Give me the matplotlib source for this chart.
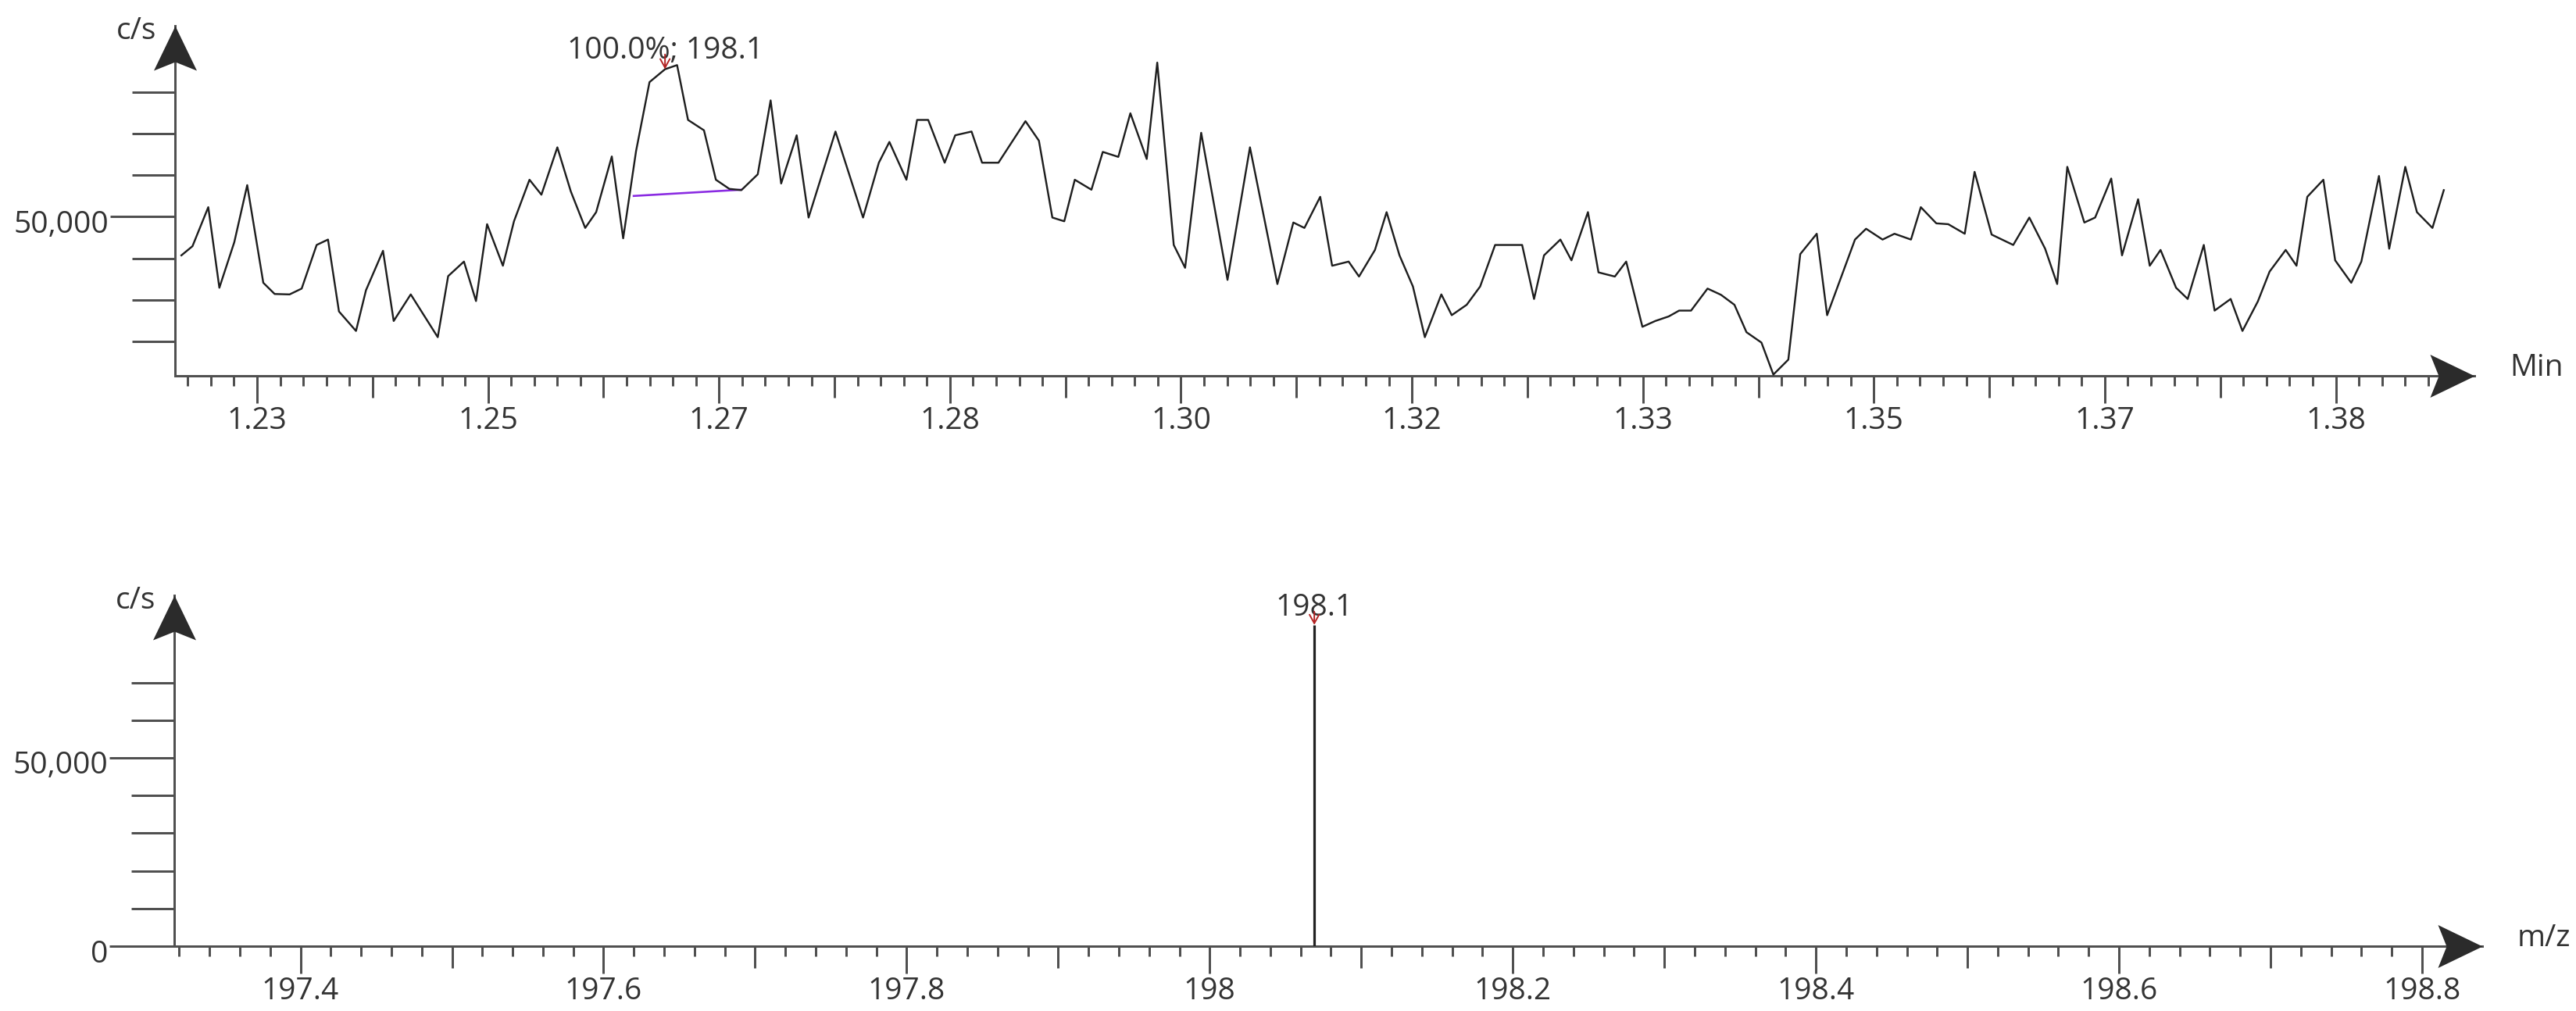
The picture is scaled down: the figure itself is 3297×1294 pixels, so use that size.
import numpy as np;
import matplotlib;
matplotlib.use("Agg");
import matplotlib.pyplot as plt;
from matplotlib.path import Path;
from matplotlib.transforms import ScaledTranslation;

plt.rcParams['font.family'] = ['Open Sans', 'DejaVu Sans'];
plt.rcParams['font.size'] = 28;

# extracted ion trace: retention time (min) and intensity (c/s)
scanTimes = [
    1.22787, 1.22867, 1.22981, 1.23061, 1.23169, 1.23262, 1.23378, 1.23460, 1.23568, 1.23655,
    1.23763, 1.23845, 1.23924, 1.24047, 1.24119, 1.24242, 1.24319, 1.24442, 1.24637, 1.24712,
    1.24826, 1.24913, 1.24993, 1.25107, 1.25187, 1.25299, 1.25385, 1.25500, 1.25597, 1.25701,
    1.25780, 1.25893, 1.25975, 1.26068, 1.26165, 1.26277, 1.26364, 1.26443, 1.26558, 1.26644,
    1.26741, 1.26828, 1.26946, 1.27039, 1.27115, 1.27227, 1.27313, 1.27507, 1.27706, 1.27820,
    1.27896, 1.28019, 1.28096, 1.28176, 1.28295, 1.28371, 1.28489, 1.28565, 1.28683, 1.28878,
    1.28975, 1.29072, 1.29158, 1.29234, 1.29354, 1.29436, 1.29548, 1.29635, 1.29753, 1.29829,
    1.29948, 1.30030, 1.30146, 1.30336, 1.30498, 1.30696, 1.30811, 1.30891, 1.31005, 1.31091,
    1.31210, 1.31285, 1.31400, 1.31484, 1.31577, 1.31674, 1.31760, 1.31879, 1.31954, 1.32062,
    1.32159, 1.32267, 1.32462, 1.32548, 1.32620, 1.32738, 1.32818, 1.32937, 1.33013, 1.33131,
    1.33213, 1.33330, 1.33423, 1.33520, 1.33595, 1.33681, 1.33800, 1.33897, 1.33994, 1.34081,
    1.34189, 1.34275, 1.34383, 1.34469, 1.34588, 1.34663, 1.34864, 1.34944, 1.35063, 1.35149,
    1.35268, 1.35339, 1.35451, 1.35537, 1.35656, 1.35727, 1.35850, 1.36006, 1.36122, 1.36236,
    1.36323, 1.36396, 1.36519, 1.36597, 1.36713, 1.36791, 1.36907, 1.36991, 1.37069, 1.37181,
    1.37265, 1.37381, 1.37459, 1.37575, 1.37660, 1.37771, 1.37856, 1.37972, 1.38050, 1.38128,
    1.38244, 1.38329, 1.38445, 1.38518, 1.38645, 1.38719, 1.38835, 1.38919, 1.39031, 1.39113];
scanCounts = [
    40700, 42900, 52300, 32900, 43900, 57600, 34100, 31400, 31300, 32700,
    43200, 44500, 27200, 22500, 32300, 41800, 24900, 31300, 21000, 35700,
    39200, 29700, 48200, 38200, 48900, 58900, 55300, 66700, 56100, 47300,
    51100, 64500, 44800, 65800, 82400, 85500, 86500, 73300, 70800, 58900,
    56700, 56400, 60200, 78000, 58000, 69600, 49800, 70500, 49800, 63000,
    68000, 58900, 73300, 73300, 63000, 69600, 70500, 63000, 63000, 73000,
    68300, 49800, 48900, 58900, 56500, 65600, 64400, 74900, 63900, 87100,
    43200, 37700, 70200, 34800, 66700, 33800, 48600, 47300, 54800, 38200,
    39200, 35600, 42000, 51100, 40700, 33200, 21000, 31300, 26300, 28800,
    33200, 43200, 43200, 30200, 40700, 44500, 39500, 51100, 36600, 35600,
    39200, 23500, 24900, 26000, 27400, 27400, 32700, 31200, 28800, 22200,
    19700, 12000, 15600, 41000, 45900, 26300, 44500, 47100, 44500, 45900,
    44500, 52300, 48400, 48200, 45900, 60800, 45700, 43200, 49800, 42300,
    33800, 62000, 48600, 49800, 59200, 40700, 54200, 38200, 42000, 32900,
    30200, 43200, 27400, 30200, 22500, 29600, 36800, 42000, 38200, 54800,
    58900, 39500, 34100, 39200, 59800, 42300, 62000, 51100, 47300, 56400];

# integration baseline drawn under the marked peak
baseTimes = [1.26051, 1.26828];
baseCounts = [55000, 56500];

apexTime = 1.26277;
apexCounts = 85500;
apexLabel = "100.0%; 198.1";

# mass spectrum at the apex
specMz = [198.069];
specCounts = [85300];
specLabel = "198.1";

timeTickLabels = ["1.23", "1.25", "1.27", "1.28", "1.30", "1.32", "1.33", "1.35", "1.37", "1.38"];
mzTickLabels = ["197.4", "197.6", "197.8", "198", "198.2", "198.4", "198.6", "198.8"];

W = 3297; H = 1294; DPI = 100;
px = 72.0 / DPI;   # points per pixel
lineGray = "#505050";
arrowGray = "#2b2b2b";
textGray = "#333333";

def arrowHead(direction):
    # stealth style head, tip at the origin, sizes in pixels
    if direction == "up":
        verts = [(0, 0), (-27.5, -57), (0, -46), (27.5, -57), (0, 0)];
    else:
        verts = [(0, 0), (-57, 27.5), (-46, 0), (-57, -27.5), (0, 0)];
    codes = [Path.MOVETO, Path.LINETO, Path.LINETO, Path.LINETO, Path.CLOSEPOLY];
    return Path(verts, codes);

def dressAxes(ax, xName):
    for side in ["top", "right"]:
        ax.spines[side].set_visible(False);
    for side in ["left", "bottom"]:
        ax.spines[side].set_color(lineGray);
        ax.spines[side].set_linewidth(3 * px);
    ax.plot([0], [1], marker=arrowHead("up"), ms=2 * 57 * px, color=arrowGray, mew=0,
            transform=ax.transAxes, clip_on=False, zorder=6);
    ax.plot([1], [0], marker=arrowHead("right"), ms=2 * 57 * px, color=arrowGray, mew=0,
            transform=ax.transAxes, clip_on=False, zorder=6);
    ax.annotate("c/s", xy=(0, 1), xycoords="axes fraction", xytext=(-24 * px, -7 * px),
                textcoords="offset points", ha="right", va="center", color=textGray);
    ax.annotate(xName, xy=(1, 0), xycoords="axes fraction", xytext=(45 * px, 0),
                textcoords="offset points", ha="left", va="baseline", color=textGray);
    ax.tick_params(axis="both", which="both", direction="out", color=lineGray,
                   width=3 * px, labelcolor=textGray, labelsize=28);
    ax.tick_params(axis="x", which="major", length=35 * px, pad=3);
    ax.tick_params(axis="x", which="minor", length=13 * px);
    ax.tick_params(axis="y", which="major", length=83 * px, pad=1);
    ax.tick_params(axis="y", which="minor", length=0);

def setTicks(ax, axis, positions, labels, shortLen):
    if axis == "x":
        ax.set_xticks(positions, labels=labels);
        ticks = ax.xaxis.get_major_ticks();
    else:
        ax.set_yticks(positions, labels=labels);
        ticks = ax.yaxis.get_major_ticks();
    for tick, lab in zip(ticks, labels):
        if lab == "":
            tick.tick1line.set_markersize(shortLen * px);

fig = plt.figure(figsize=(W / DPI, H / DPI), dpi=DPI);
nudge = ScaledTranslation(0, -6.0 / DPI, fig.dpi_scale_trans);

# ---- chromatogram ----
axTop = fig.add_axes([224 / W, (H - 480.7) / H, (3167 - 224) / W, (480.7 - 33) / H]);
axTop.plot(scanTimes, scanCounts, color="#1e1e1e", lw=2.4 * px, zorder=3);
axTop.plot(baseTimes, baseCounts, color="#8a2be2", lw=2.6 * px, zorder=2);
axTop.set_xlim(1.22741, 1.39334);
axTop.set_ylim(11760, 95960);
dressAxes(axTop, "Min");

halfSec = np.arange(148, 167) / 120.0;
topLabels = [];
for i in range(len(halfSec)):
    topLabels.append(timeTickLabels[i // 2] if i % 2 == 0 else "");
setTicks(axTop, "x", halfSec, topLabels, 28);
axTop.set_xticks(np.arange(737, 835) / 600.0, minor=True);
setTicks(axTop, "y", [20000, 30000, 40000, 50000, 60000, 70000, 80000],
         ["", "", "", "50,000", "", "", ""], 55);
for lab in axTop.get_yticklabels():
    lab.set_transform(lab.get_transform() + nudge);

axTop.annotate(apexLabel, xy=(apexTime, apexCounts), xytext=(0, 14 * px),
               textcoords="offset points", ha="center", va="baseline", color=textGray, zorder=5);
axTop.annotate("", xy=(apexTime, apexCounts), xytext=(0, 19 * px), textcoords="offset points",
               arrowprops=dict(arrowstyle="->,head_length=0.4,head_width=0.22", color="#b22222",
                               lw=1.4, shrinkA=0, shrinkB=0, mutation_scale=20), zorder=5);

# ---- spectrum ----
axBot = fig.add_axes([223 / W, (H - 1211) / H, (3177 - 223) / W, (1211 - 762) / H]);
axBot.vlines(specMz, 0, specCounts, color="#222222", lw=3.2 * px, zorder=3);
axBot.set_xlim(197.3167, 198.8397);
axBot.set_ylim(0, 93150);
dressAxes(axBot, "m/z");

tenths = np.arange(1974, 1989) / 10.0;
botLabels = [];
for i in range(len(tenths)):
    botLabels.append(mzTickLabels[i // 2] if i % 2 == 0 else "");
setTicks(axBot, "x", tenths, botLabels, 28);
axBot.set_xticks(np.arange(9866, 9941) / 50.0, minor=True);
setTicks(axBot, "y", [0, 10000, 20000, 30000, 40000, 50000, 60000, 70000],
         ["0", "", "", "", "", "50,000", "", ""], 55);
for lab in axBot.get_yticklabels():
    lab.set_transform(lab.get_transform() + nudge);

axBot.annotate(specLabel, xy=(specMz[0], specCounts[0]), xytext=(0, 12 * px),
               textcoords="offset points", ha="center", va="baseline", color=textGray, zorder=5);
axBot.annotate("", xy=(specMz[0], specCounts[0]), xytext=(0, 17 * px), textcoords="offset points",
               arrowprops=dict(arrowstyle="->,head_length=0.4,head_width=0.22", color="#b22222",
                               lw=1.4, shrinkA=0, shrinkB=0, mutation_scale=20), zorder=5);

fig.savefig("out.png", dpi=DPI);
